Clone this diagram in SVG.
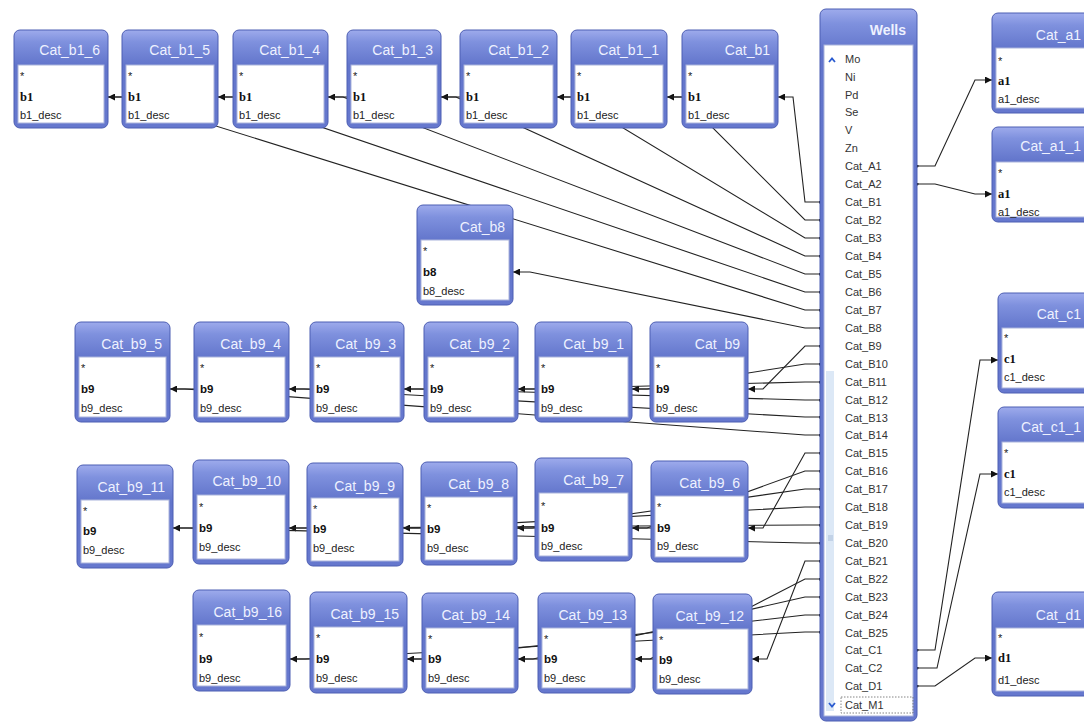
<svg xmlns="http://www.w3.org/2000/svg" width="1084" height="726" viewBox="0 0 1084 726">
<defs>
<linearGradient id="hdr" x1="0" y1="0" x2="0" y2="1">
<stop offset="0" stop-color="#9eabec"/>
<stop offset="0.12" stop-color="#7f91de"/>
<stop offset="0.36" stop-color="#6275cb"/>
<stop offset="1" stop-color="#6678ce"/>
</linearGradient>
<linearGradient id="hdrW" x1="0" y1="0" x2="0" y2="1">
<stop offset="0" stop-color="#9eabec"/>
<stop offset="0.02" stop-color="#7f91de"/>
<stop offset="0.06" stop-color="#6275cb"/>
<stop offset="1" stop-color="#6678ce"/>
</linearGradient>
<marker id="arr" viewBox="0 0 8 8" refX="8" refY="4" markerWidth="7" markerHeight="7" orient="auto" markerUnits="userSpaceOnUse">
<path d="M0,0 L8,4 L0,8 z" fill="#111"/>
</marker>
<marker id="dot" viewBox="0 0 4 4" refX="2" refY="2" markerWidth="3" markerHeight="3" markerUnits="userSpaceOnUse">
<circle cx="2" cy="2" r="2" fill="#111"/>
</marker>
</defs>
<style>
.frame{fill:url(#hdr);stroke:#4d5eb3;stroke-width:1}
.wframe{fill:url(#hdrW);stroke:#4d5eb3;stroke-width:1}
.body{fill:#ffffff;stroke:#aab3dc;stroke-width:1}
.title{font-family:"Liberation Sans",Arial,sans-serif;font-size:14px;fill:#eef1ff;text-anchor:end}
.f{font-family:"Liberation Sans",Arial,sans-serif;font-size:11px;fill:#222}
.ks{font-family:"Liberation Serif","Times New Roman",serif;font-size:12.5px;font-weight:bold;fill:#111}
.kb{font-family:"Liberation Sans",Arial,sans-serif;font-size:11.5px;font-weight:bold;fill:#111}
.w{font-family:"Liberation Sans",Arial,sans-serif;font-size:11px;fill:#333}
.c{fill:none;stroke:#222;stroke-width:1.1}
.a{marker-end:url(#arr)}
.ds{marker-start:url(#dot)}
.de{marker-end:url(#dot)}
</style>
<rect width="1084" height="726" fill="#ffffff"/>

<g id="connectors">
<path class="c a" d="M122,97 H108"/>
<path class="c a" d="M233,97 H218"/>
<path class="c a" d="M347,97 H328"/>
<path class="c a" d="M460,97 H441"/>
<path class="c a" d="M571,97 H557"/>
<path class="c a" d="M682,97 H667"/>
<path class="c a ds" d="M820,202 H805 L793,97 H778"/>
<path class="c de" d="M667,97 H682 L805,220 H820"/>
<path class="c de" d="M557,97 H572 L805,238 H820"/>
<path class="c de" d="M441,97 H456 L805,256 H820"/>
<path class="c de" d="M328,97 H343 L805,274 H820"/>
<path class="c de" d="M218,97 H233 L805,292 H820"/>
<path class="c de" d="M108,97 H123 L805,310 H820"/>
<path class="c a ds" d="M820,328 H805 L530,272 H513"/>
<path class="c a" d="M194,389 H170"/>
<path class="c a" d="M310,389 H289"/>
<path class="c a" d="M424,389 H404"/>
<path class="c a" d="M535,389 H518"/>
<path class="c a" d="M650,389 H632"/>
<path class="c a ds" d="M820,346 H805 L763,389 H748"/>
<path class="c de" d="M632,389 H647 L805,364 H820"/>
<path class="c de" d="M518,389 H533 L805,382 H820"/>
<path class="c de" d="M404,389 H419 L805,400 H820"/>
<path class="c de" d="M289,389 H304 L805,417 H820"/>
<path class="c de" d="M170,389 H185 L805,435 H820"/>
<path class="c a" d="M193,528 H173"/>
<path class="c a" d="M307,528 H289"/>
<path class="c a" d="M421,528 H403"/>
<path class="c a" d="M535,528 H517"/>
<path class="c a" d="M651,528 H632"/>
<path class="c a ds" d="M820,453 H805 L763,528 H748"/>
<path class="c de" d="M632,528 H647 L805,471 H820"/>
<path class="c de" d="M517,528 H532 L805,489 H820"/>
<path class="c de" d="M403,528 H418 L805,507 H820"/>
<path class="c de" d="M289,528 H304 L805,525 H820"/>
<path class="c de" d="M173,528 H188 L805,543 H820"/>
<path class="c a" d="M310,659 H290"/>
<path class="c a" d="M422,659 H407"/>
<path class="c a" d="M538,659 H518"/>
<path class="c a" d="M653,659 H635"/>
<path class="c a ds" d="M820,561 H805 L767,659 H752"/>
<path class="c de" d="M635,659 H650 L805,579 H820"/>
<path class="c de" d="M518,659 H533 L805,597 H820"/>
<path class="c de" d="M407,659 H422 L805,615 H820"/>
<path class="c de" d="M290,659 H305 L805,632 H820"/>
<path class="c a ds" d="M917,166 H935 L975,80 H992"/>
<path class="c a ds" d="M917,184 H935 L975,194 H992"/>
<path class="c a ds" d="M917,650 H935 L980,360 H998"/>
<path class="c a ds" d="M917,668 H937 L980,474 H998"/>
<path class="c a ds" d="M917,686 H935 L975,658 H992"/>
</g>

<g id="n-cat_b1_6" transform="translate(14,30)">
<rect class="frame" width="94" height="98" rx="6"/><rect class="body" x="4" y="35" width="86" height="58"/>
<text class="title" x="86" y="25">Cat_b1_6</text><text class="f" x="6" y="50">*</text><text class="ks" x="6" y="71">b1</text><text class="f" x="6" y="89">b1_desc</text>
</g>
<g id="n-cat_b1_5" transform="translate(122,30)">
<rect class="frame" width="96" height="98" rx="6"/><rect class="body" x="4" y="35" width="88" height="58"/>
<text class="title" x="88" y="25">Cat_b1_5</text><text class="f" x="6" y="50">*</text><text class="ks" x="6" y="71">b1</text><text class="f" x="6" y="89">b1_desc</text>
</g>
<g id="n-cat_b1_4" transform="translate(233,30)">
<rect class="frame" width="95" height="98" rx="6"/><rect class="body" x="4" y="35" width="87" height="58"/>
<text class="title" x="87" y="25">Cat_b1_4</text><text class="f" x="6" y="50">*</text><text class="ks" x="6" y="71">b1</text><text class="f" x="6" y="89">b1_desc</text>
</g>
<g id="n-cat_b1_3" transform="translate(347,30)">
<rect class="frame" width="94" height="98" rx="6"/><rect class="body" x="4" y="35" width="86" height="58"/>
<text class="title" x="86" y="25">Cat_b1_3</text><text class="f" x="6" y="50">*</text><text class="ks" x="6" y="71">b1</text><text class="f" x="6" y="89">b1_desc</text>
</g>
<g id="n-cat_b1_2" transform="translate(460,30)">
<rect class="frame" width="97" height="98" rx="6"/><rect class="body" x="4" y="35" width="89" height="58"/>
<text class="title" x="89" y="25">Cat_b1_2</text><text class="f" x="6" y="50">*</text><text class="ks" x="6" y="71">b1</text><text class="f" x="6" y="89">b1_desc</text>
</g>
<g id="n-cat_b1_1" transform="translate(571,30)">
<rect class="frame" width="96" height="98" rx="6"/><rect class="body" x="4" y="35" width="88" height="58"/>
<text class="title" x="88" y="25">Cat_b1_1</text><text class="f" x="6" y="50">*</text><text class="ks" x="6" y="71">b1</text><text class="f" x="6" y="89">b1_desc</text>
</g>
<g id="n-cat_b1" transform="translate(682,30)">
<rect class="frame" width="96" height="98" rx="6"/><rect class="body" x="4" y="35" width="88" height="58"/>
<text class="title" x="88" y="25">Cat_b1</text><text class="f" x="6" y="50">*</text><text class="ks" x="6" y="71">b1</text><text class="f" x="6" y="89">b1_desc</text>
</g>

<g id="n-cat_b8" transform="translate(417,205)">
<rect class="frame" width="96" height="100" rx="6"/><rect class="body" x="4" y="35" width="88" height="60"/>
<text class="title" x="88" y="27">Cat_b8</text><text class="f" x="6" y="50">*</text><text class="kb" x="6" y="71">b8</text><text class="f" x="6" y="90">b8_desc</text>
</g>

<g id="n-cat_b9_5" transform="translate(75,322)">
<rect class="frame" width="95" height="100" rx="6"/><rect class="body" x="4" y="35" width="87" height="60"/>
<text class="title" x="87" y="27">Cat_b9_5</text><text class="f" x="6" y="50">*</text><text class="kb" x="6" y="71">b9</text><text class="f" x="6" y="90">b9_desc</text>
</g>
<g id="n-cat_b9_4" transform="translate(194,322)">
<rect class="frame" width="95" height="100" rx="6"/><rect class="body" x="4" y="35" width="87" height="60"/>
<text class="title" x="87" y="27">Cat_b9_4</text><text class="f" x="6" y="50">*</text><text class="kb" x="6" y="71">b9</text><text class="f" x="6" y="90">b9_desc</text>
</g>
<g id="n-cat_b9_3" transform="translate(310,322)">
<rect class="frame" width="94" height="100" rx="6"/><rect class="body" x="4" y="35" width="86" height="60"/>
<text class="title" x="86" y="27">Cat_b9_3</text><text class="f" x="6" y="50">*</text><text class="kb" x="6" y="71">b9</text><text class="f" x="6" y="90">b9_desc</text>
</g>
<g id="n-cat_b9_2" transform="translate(424,322)">
<rect class="frame" width="94" height="100" rx="6"/><rect class="body" x="4" y="35" width="86" height="60"/>
<text class="title" x="86" y="27">Cat_b9_2</text><text class="f" x="6" y="50">*</text><text class="kb" x="6" y="71">b9</text><text class="f" x="6" y="90">b9_desc</text>
</g>
<g id="n-cat_b9_1" transform="translate(535,322)">
<rect class="frame" width="97" height="100" rx="6"/><rect class="body" x="4" y="35" width="89" height="60"/>
<text class="title" x="89" y="27">Cat_b9_1</text><text class="f" x="6" y="50">*</text><text class="kb" x="6" y="71">b9</text><text class="f" x="6" y="90">b9_desc</text>
</g>
<g id="n-cat_b9" transform="translate(650,322)">
<rect class="frame" width="98" height="100" rx="6"/><rect class="body" x="4" y="35" width="90" height="60"/>
<text class="title" x="90" y="27">Cat_b9</text><text class="f" x="6" y="50">*</text><text class="kb" x="6" y="71">b9</text><text class="f" x="6" y="90">b9_desc</text>
</g>

<g id="n-cat_b9_11" transform="translate(77,465)">
<rect class="frame" width="96" height="103" rx="6"/><rect class="body" x="4" y="35" width="88" height="63"/>
<text class="title" x="88" y="27">Cat_b9_11</text><text class="f" x="6" y="50">*</text><text class="kb" x="6" y="70">b9</text><text class="f" x="6" y="89">b9_desc</text>
</g>
<g id="n-cat_b9_10" transform="translate(193,460)">
<rect class="frame" width="96" height="104" rx="6"/><rect class="body" x="4" y="35" width="88" height="64"/>
<text class="title" x="88" y="26">Cat_b9_10</text><text class="f" x="6" y="51">*</text><text class="kb" x="6" y="72">b9</text><text class="f" x="6" y="91">b9_desc</text>
</g>
<g id="n-cat_b9_9" transform="translate(307,463)">
<rect class="frame" width="96" height="103" rx="6"/><rect class="body" x="4" y="35" width="88" height="63"/>
<text class="title" x="88" y="28">Cat_b9_9</text><text class="f" x="6" y="50">*</text><text class="kb" x="6" y="70">b9</text><text class="f" x="6" y="89">b9_desc</text>
</g>
<g id="n-cat_b9_8" transform="translate(421,462)">
<rect class="frame" width="96" height="103" rx="6"/><rect class="body" x="4" y="35" width="88" height="63"/>
<text class="title" x="88" y="27">Cat_b9_8</text><text class="f" x="6" y="50">*</text><text class="kb" x="6" y="71">b9</text><text class="f" x="6" y="90">b9_desc</text>
</g>
<g id="n-cat_b9_7" transform="translate(535,458)">
<rect class="frame" width="97" height="103" rx="6"/><rect class="body" x="4" y="35" width="89" height="63"/>
<text class="title" x="89" y="27">Cat_b9_7</text><text class="f" x="6" y="52">*</text><text class="kb" x="6" y="74">b9</text><text class="f" x="6" y="92">b9_desc</text>
</g>
<g id="n-cat_b9_6" transform="translate(651,461)">
<rect class="frame" width="97" height="101" rx="6"/><rect class="body" x="4" y="35" width="89" height="61"/>
<text class="title" x="89" y="27">Cat_b9_6</text><text class="f" x="6" y="50">*</text><text class="kb" x="6" y="71">b9</text><text class="f" x="6" y="89">b9_desc</text>
</g>

<g id="n-cat_b9_16" transform="translate(193,590)">
<rect class="frame" width="97" height="101" rx="6"/><rect class="body" x="4" y="35" width="89" height="61"/>
<text class="title" x="89" y="27">Cat_b9_16</text><text class="f" x="6" y="51">*</text><text class="kb" x="6" y="73">b9</text><text class="f" x="6" y="92">b9_desc</text>
</g>
<g id="n-cat_b9_15" transform="translate(310,592)">
<rect class="frame" width="97" height="101" rx="6"/><rect class="body" x="4" y="35" width="89" height="61"/>
<text class="title" x="89" y="27">Cat_b9_15</text><text class="f" x="6" y="50">*</text><text class="kb" x="6" y="71">b9</text><text class="f" x="6" y="90">b9_desc</text>
</g>
<g id="n-cat_b9_14" transform="translate(422,593)">
<rect class="frame" width="96" height="100" rx="6"/><rect class="body" x="4" y="35" width="88" height="60"/>
<text class="title" x="88" y="27">Cat_b9_14</text><text class="f" x="6" y="50">*</text><text class="kb" x="6" y="70">b9</text><text class="f" x="6" y="89">b9_desc</text>
</g>
<g id="n-cat_b9_13" transform="translate(538,593)">
<rect class="frame" width="97" height="100" rx="6"/><rect class="body" x="4" y="35" width="89" height="60"/>
<text class="title" x="89" y="27">Cat_b9_13</text><text class="f" x="6" y="50">*</text><text class="kb" x="6" y="70">b9</text><text class="f" x="6" y="89">b9_desc</text>
</g>
<g id="n-cat_b9_12" transform="translate(653,594)">
<rect class="frame" width="99" height="100" rx="6"/><rect class="body" x="4" y="35" width="91" height="60"/>
<text class="title" x="91" y="27">Cat_b9_12</text><text class="f" x="6" y="50">*</text><text class="kb" x="6" y="70">b9</text><text class="f" x="6" y="89">b9_desc</text>
</g>

<g id="n-cat_a1" transform="translate(992,13)">
<rect class="frame" width="106" height="100" rx="6"/><rect class="body" x="4" y="35" width="98" height="60"/>
<text class="title" x="89" y="27">Cat_a1</text><text class="f" x="6" y="52">*</text><text class="ks" x="6" y="72">a1</text><text class="f" x="6" y="90">a1_desc</text>
</g>
<g id="n-cat_a1_1" transform="translate(992,127)">
<rect class="frame" width="106" height="95" rx="6"/><rect class="body" x="4" y="35" width="98" height="55"/>
<text class="title" x="89" y="24">Cat_a1_1</text><text class="f" x="6" y="50">*</text><text class="ks" x="6" y="71">a1</text><text class="f" x="6" y="89">a1_desc</text>
</g>
<g id="n-cat_c1" transform="translate(998,293)">
<rect class="frame" width="100" height="100" rx="6"/><rect class="body" x="4" y="35" width="92" height="60"/>
<text class="title" x="83" y="26">Cat_c1</text><text class="f" x="6" y="49">*</text><text class="ks" x="6" y="70">c1</text><text class="f" x="6" y="88">c1_desc</text>
</g>
<g id="n-cat_c1_1" transform="translate(998,407)">
<rect class="frame" width="100" height="101" rx="6"/><rect class="body" x="4" y="35" width="92" height="61"/>
<text class="title" x="83" y="25">Cat_c1_1</text><text class="f" x="6" y="50">*</text><text class="ks" x="6" y="71">c1</text><text class="f" x="6" y="89">c1_desc</text>
</g>
<g id="n-cat_d1" transform="translate(992,592)">
<rect class="frame" width="106" height="104" rx="6"/><rect class="body" x="4" y="36" width="98" height="63"/>
<text class="title" x="89" y="28">Cat_d1</text><text class="f" x="6" y="50">*</text><text class="ks" x="6" y="70">d1</text><text class="f" x="6" y="92">d1_desc</text>
</g>

<g id="n-wells" transform="translate(820,9)">
<rect class="wframe" width="97" height="712" rx="6"/>
<rect class="body" x="4" y="36" width="89" height="671"/>
<text class="title" x="86" y="26" font-weight="bold">Wells</text>
<rect x="6" y="362" width="8" height="340" fill="#dce8f6"/>
<path d="M8,527 h5 M8,529 h5 M8,531 h5" stroke="#a8bcd8" stroke-width="1"/>
<path d="M9,53 L12,49.5 L15,53" fill="none" stroke="#2a5bd0" stroke-width="1.8"/>
<path d="M9,694 L12,697.5 L15,694" fill="none" stroke="#2a5bd0" stroke-width="1.8"/>
<rect x="21" y="688" width="72" height="16" fill="none" stroke="#666" stroke-width="0.8" stroke-dasharray="1.5,1.5"/>
<text class="w" x="25" y="54">Mo</text>
<text class="w" x="25" y="72">Ni</text>
<text class="w" x="25" y="90">Pd</text>
<text class="w" x="25" y="107">Se</text>
<text class="w" x="25" y="125">V</text>
<text class="w" x="25" y="143">Zn</text>
<text class="w" x="25" y="161">Cat_A1</text>
<text class="w" x="25" y="179">Cat_A2</text>
<text class="w" x="25" y="197">Cat_B1</text>
<text class="w" x="25" y="215">Cat_B2</text>
<text class="w" x="25" y="233">Cat_B3</text>
<text class="w" x="25" y="251">Cat_B4</text>
<text class="w" x="25" y="269">Cat_B5</text>
<text class="w" x="25" y="287">Cat_B6</text>
<text class="w" x="25" y="305">Cat_B7</text>
<text class="w" x="25" y="323">Cat_B8</text>
<text class="w" x="25" y="341">Cat_B9</text>
<text class="w" x="25" y="359">Cat_B10</text>
<text class="w" x="25" y="377">Cat_B11</text>
<text class="w" x="25" y="395">Cat_B12</text>
<text class="w" x="25" y="413">Cat_B13</text>
<text class="w" x="25" y="430">Cat_B14</text>
<text class="w" x="25" y="448">Cat_B15</text>
<text class="w" x="25" y="466">Cat_B16</text>
<text class="w" x="25" y="484">Cat_B17</text>
<text class="w" x="25" y="502">Cat_B18</text>
<text class="w" x="25" y="520">Cat_B19</text>
<text class="w" x="25" y="538">Cat_B20</text>
<text class="w" x="25" y="556">Cat_B21</text>
<text class="w" x="25" y="574">Cat_B22</text>
<text class="w" x="25" y="592">Cat_B23</text>
<text class="w" x="25" y="610">Cat_B24</text>
<text class="w" x="25" y="628">Cat_B25</text>
<text class="w" x="25" y="645">Cat_C1</text>
<text class="w" x="25" y="663">Cat_C2</text>
<text class="w" x="25" y="681">Cat_D1</text>
<text class="w" x="25" y="700">Cat_M1</text>
</g>
</svg>
